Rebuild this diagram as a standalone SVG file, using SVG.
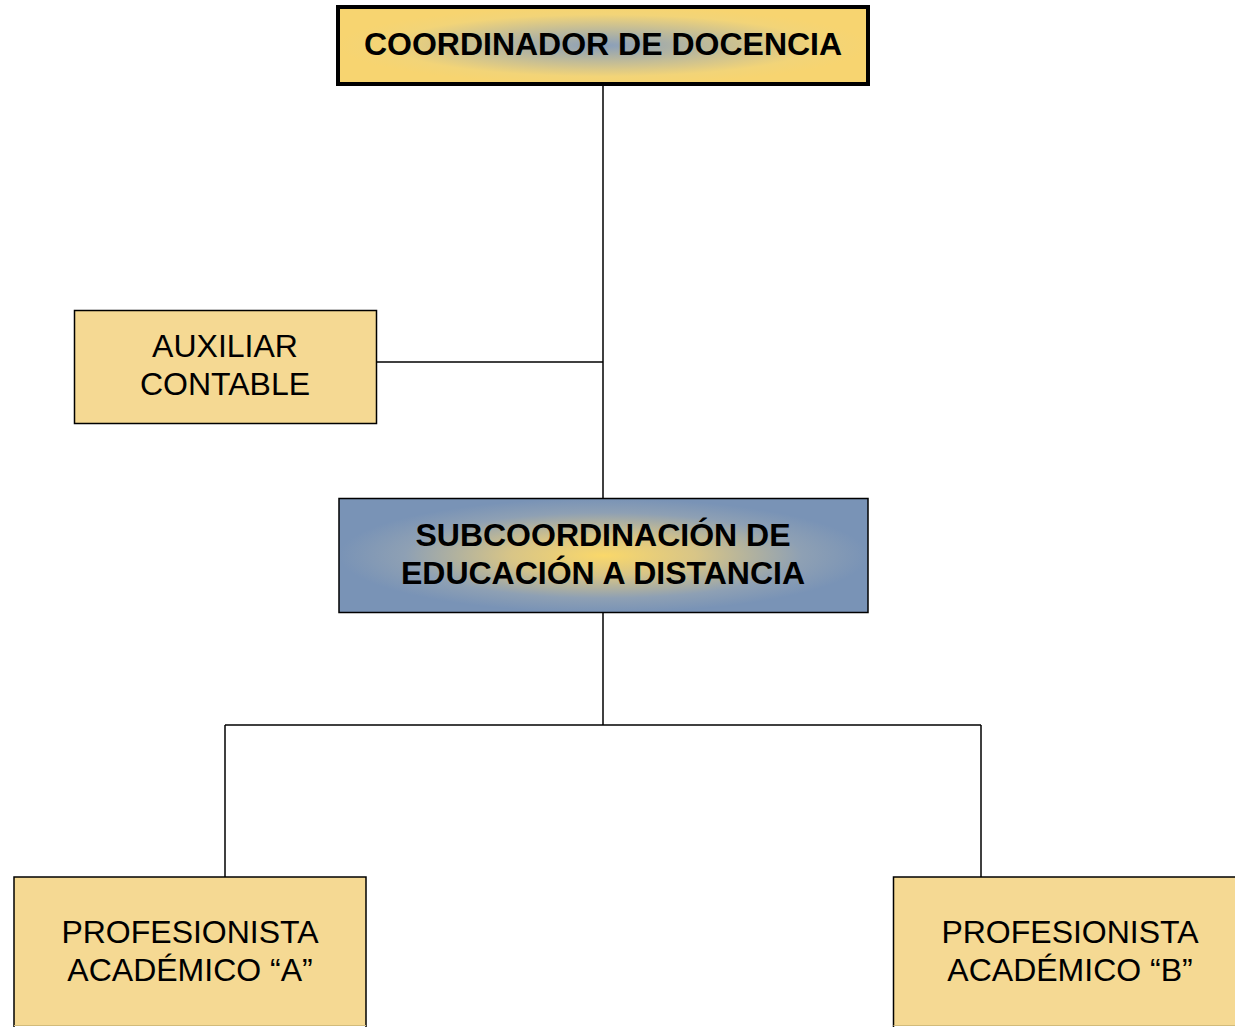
<svg xmlns="http://www.w3.org/2000/svg" width="1235" height="1027" viewBox="0 0 1235 1027">
<style>
.box{fill:#f5d993;stroke:#000;stroke-width:1.5}
.fill{fill:#f5d993}
.edge{fill:none;stroke:#000;stroke-width:1.5}
.t{font-family:"Liberation Sans",Arial,sans-serif;font-size:32px;text-anchor:middle;fill:#000}
.b{font-weight:bold}
.c{stroke:#000;stroke-width:1.5;fill:none}
</style>
<defs>
<radialGradient id="gTop" cx="0.5" cy="0.5" r="0.5">
<stop offset="0" stop-color="#8a9fba"/>
<stop offset="0.45" stop-color="#c4bd96"/>
<stop offset="0.8" stop-color="#f2d478"/>
<stop offset="1" stop-color="#f7d470"/>
</radialGradient>
<radialGradient id="gSub" cx="0.5" cy="0.5" r="0.5">
<stop offset="0" stop-color="#fad86a"/>
<stop offset="0.35" stop-color="#d8c587"/>
<stop offset="0.75" stop-color="#8ea0b4"/>
<stop offset="1" stop-color="#7993b6"/>
</radialGradient>
</defs>
<g id="connectors">
<line class="c" x1="603" y1="84" x2="603" y2="498"/>
<line class="c" x1="376" y1="362" x2="603" y2="362"/>
<line class="c" x1="603" y1="612" x2="603" y2="725"/>
<line class="c" x1="225" y1="725" x2="981" y2="725"/>
<line class="c" x1="225" y1="725" x2="225" y2="877"/>
<line class="c" x1="981" y1="725" x2="981" y2="877"/>
</g>
<g id="coordinador">
<rect x="338" y="7" width="530" height="77" fill="url(#gTop)" stroke="#000" stroke-width="4"/>
<text class="t b" x="603" y="55">COORDINADOR DE DOCENCIA</text>
</g>
<g id="auxiliar">
<rect class="box" x="74.5" y="310.5" width="302" height="113"/>
<text class="t" x="225" y="357">AUXILIAR</text>
<text class="t" x="225" y="395">CONTABLE</text>
</g>
<g id="subcoordinacion">
<rect x="339" y="498.5" width="529" height="114" fill="url(#gSub)" stroke="#000" stroke-width="1.5"/>
<text class="t b" x="603" y="546">SUBCOORDINACIÓN DE</text>
<text class="t b" x="603" y="584">EDUCACIÓN A DISTANCIA</text>
</g>
<g id="profA">
<rect class="fill" x="14" y="877" width="352" height="149"/>
<path class="edge" d="M14,1027 V877 H366 V1027"/>
<line x1="14" y1="1025.5" x2="366" y2="1025.5" stroke="#d2bb7a" stroke-width="1"/>
<text class="t" x="190" y="943">PROFESIONISTA</text>
<text class="t" x="190" y="981">ACADÉMICO “A”</text>
</g>
<g id="profB">
<rect class="fill" x="893.5" y="877" width="350" height="149"/>
<path class="edge" d="M893.5,1027 V877 H1240"/>
<line x1="893.5" y1="1025.5" x2="1235" y2="1025.5" stroke="#d2bb7a" stroke-width="1"/>
<text class="t" x="1070" y="943">PROFESIONISTA</text>
<text class="t" x="1070" y="981">ACADÉMICO “B”</text>
</g>
</svg>
